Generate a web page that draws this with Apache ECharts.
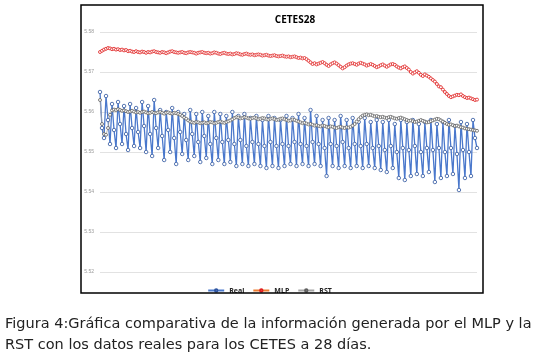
<!DOCTYPE html>
<html>

<head>
    <meta charset="utf-8">
    <script type="text/javascript" src="https://cdn.jsdelivr.net/npm/echarts@6/dist/echarts.min.js"></script>
    <title>CETES28</title>
</head>

<body style="margin:0;background:#fff;">
    <div id="container" style="width:539px;height:360px;"></div>
    <script type="text/javascript">
    // 数据：实际值（每个周期 高、中、低 三个点）
    var real = [
        5.5650, 5.5560, 5.5535, 5.5640, 5.5580, 5.5520, 5.5620, 5.5555, 5.5510,
        5.5625, 5.5570, 5.5520, 5.5615, 5.5545, 5.5505, 5.5620, 5.5560, 5.5515,
        5.5610, 5.5550, 5.5510, 5.5625, 5.5565, 5.5500, 5.5615, 5.5545, 5.5490,
        5.5630, 5.5560, 5.5510, 5.5605, 5.5540, 5.5480, 5.5600, 5.5555, 5.5500,
        5.5610, 5.5535, 5.5470, 5.5600, 5.5550, 5.5495, 5.5595, 5.5530, 5.5480,
        5.5605, 5.5545, 5.5490, 5.5595, 5.5525, 5.5475, 5.5600, 5.5540, 5.5485,
        5.5590, 5.5520, 5.5470, 5.5600, 5.5535, 5.5480, 5.5595, 5.5525, 5.5470,
        5.5590, 5.5530, 5.5475, 5.5600, 5.5520, 5.5465, 5.5590, 5.5530, 5.5470,
        5.5595, 5.5515, 5.5465, 5.5585, 5.5525, 5.5470, 5.5590, 5.5520, 5.5465,
        5.5580, 5.5515, 5.5460, 5.5590, 5.5525, 5.5465, 5.5585, 5.5515, 5.5460,
        5.5580, 5.5520, 5.5465, 5.5590, 5.5515, 5.5470, 5.5585, 5.5525, 5.5465,
        5.5595, 5.5520, 5.5470, 5.5585, 5.5515, 5.5465, 5.5605, 5.5525, 5.5470,
        5.5590, 5.5520, 5.5465, 5.5580, 5.5510, 5.5440, 5.5585, 5.5520, 5.5465,
        5.5580, 5.5515, 5.5460, 5.5590, 5.5525, 5.5465, 5.5580, 5.5510, 5.5460,
        5.5585, 5.5520, 5.5465, 5.5575, 5.5515, 5.5460, 5.5585, 5.5520, 5.5465,
        5.5575, 5.5510, 5.5460, 5.5580, 5.5515, 5.5455, 5.5575, 5.5505, 5.5450,
        5.5580, 5.5515, 5.5460, 5.5570, 5.5500, 5.5435, 5.5580, 5.5510, 5.5430,
        5.5575, 5.5505, 5.5440, 5.5580, 5.5515, 5.5445, 5.5570, 5.5500, 5.5440,
        5.5575, 5.5510, 5.5450, 5.5580, 5.5505, 5.5425, 5.5570, 5.5510, 5.5435,
        5.5575, 5.5500, 5.5440, 5.5580, 5.5510, 5.5445, 5.5565, 5.5495, 5.5405,
        5.5575, 5.5505, 5.5435, 5.5570, 5.5500, 5.5440, 5.5580, 5.5535, 5.5510
    ];

    // MLP 预测
    var mlp = [
        5.5750, 5.5753, 5.5756, 5.5758, 5.5760, 5.5759, 5.5757, 5.5758, 5.5756, 5.5757,
        5.5755, 5.5756, 5.5754, 5.5755, 5.5752, 5.5753, 5.5751, 5.5750, 5.5752, 5.5750,
        5.5749, 5.5751, 5.5750, 5.5748, 5.5750, 5.5749, 5.5751, 5.5752, 5.5750, 5.5749,
        5.5748, 5.5750, 5.5749, 5.5747, 5.5749, 5.5751, 5.5752, 5.5750, 5.5749, 5.5748,
        5.5749, 5.5750, 5.5748, 5.5747, 5.5749, 5.5750, 5.5749, 5.5748, 5.5746, 5.5748,
        5.5749, 5.5750, 5.5748, 5.5747, 5.5748, 5.5746, 5.5747, 5.5749, 5.5748, 5.5746,
        5.5745, 5.5747, 5.5748, 5.5746, 5.5745, 5.5746, 5.5744, 5.5745, 5.5747, 5.5746,
        5.5744, 5.5743, 5.5745, 5.5746, 5.5744, 5.5743, 5.5744, 5.5742, 5.5743, 5.5744,
        5.5743, 5.5741, 5.5742, 5.5743, 5.5741, 5.5740, 5.5741, 5.5742, 5.5740, 5.5739,
        5.5740, 5.5741, 5.5739, 5.5738, 5.5739, 5.5737, 5.5738, 5.5739, 5.5737, 5.5735,
        5.5736, 5.5734, 5.5735, 5.5732, 5.5728, 5.5724, 5.5720, 5.5722, 5.5719, 5.5721,
        5.5723, 5.5725, 5.5722, 5.5718, 5.5715, 5.5719, 5.5722, 5.5724, 5.5721, 5.5717,
        5.5713, 5.5709, 5.5712, 5.5716, 5.5719, 5.5721, 5.5722, 5.5720, 5.5718, 5.5721,
        5.5723, 5.5721, 5.5719, 5.5716, 5.5718, 5.5720, 5.5718, 5.5715, 5.5712, 5.5714,
        5.5717, 5.5719, 5.5716, 5.5713, 5.5716, 5.5719, 5.5720, 5.5718, 5.5714, 5.5711,
        5.5709, 5.5712, 5.5714, 5.5710, 5.5706, 5.5700, 5.5696, 5.5699, 5.5702, 5.5698,
        5.5693, 5.5690, 5.5694, 5.5691, 5.5688, 5.5684, 5.5680, 5.5676, 5.5670, 5.5664,
        5.5662, 5.5656, 5.5650, 5.5645, 5.5640, 5.5637, 5.5639, 5.5641, 5.5643, 5.5642,
        5.5644, 5.5640, 5.5637, 5.5635, 5.5636, 5.5634, 5.5632, 5.5630, 5.5631
    ];

    // RST 预测
    var rst = [
        5.5630, 5.5570, 5.5545, 5.5543, 5.5560, 5.5593, 5.5604, 5.5606, 5.5605, 5.5607,
        5.5605, 5.5603, 5.5604, 5.5602, 5.5600, 5.5601, 5.5603, 5.5601, 5.5599, 5.5600,
        5.5598, 5.5600, 5.5601, 5.5599, 5.5597, 5.5598, 5.5600, 5.5598, 5.5597, 5.5599,
        5.5600, 5.5598, 5.5596, 5.5598, 5.5599, 5.5597, 5.5596, 5.5598, 5.5597, 5.5595,
        5.5593, 5.5590, 5.5586, 5.5583, 5.5579, 5.5576, 5.5574, 5.5573, 5.5575, 5.5574,
        5.5572, 5.5573, 5.5574, 5.5572, 5.5573, 5.5575, 5.5574, 5.5572, 5.5573, 5.5575,
        5.5576, 5.5574, 5.5573, 5.5575, 5.5577, 5.5579, 5.5582, 5.5585, 5.5587, 5.5586,
        5.5584, 5.5585, 5.5587, 5.5586, 5.5584, 5.5583, 5.5585, 5.5586, 5.5584, 5.5582,
        5.5583, 5.5585, 5.5584, 5.5582, 5.5581, 5.5583, 5.5584, 5.5582, 5.5580, 5.5581,
        5.5583, 5.5584, 5.5582, 5.5580, 5.5578, 5.5579, 5.5581, 5.5580, 5.5578, 5.5576,
        5.5574, 5.5572, 5.5573, 5.5571, 5.5569, 5.5570, 5.5568, 5.5566, 5.5567, 5.5565,
        5.5564, 5.5566, 5.5565, 5.5563, 5.5562, 5.5564, 5.5563, 5.5561, 5.5560, 5.5562,
        5.5563, 5.5561, 5.5560, 5.5562, 5.5561, 5.5563, 5.5566, 5.5570, 5.5576, 5.5582,
        5.5587, 5.5591, 5.5593, 5.5594, 5.5592, 5.5593, 5.5591, 5.5589, 5.5590, 5.5588,
        5.5587, 5.5588, 5.5586, 5.5585, 5.5587, 5.5588, 5.5586, 5.5584, 5.5583, 5.5585,
        5.5586, 5.5584, 5.5582, 5.5580, 5.5578, 5.5579, 5.5577, 5.5575, 5.5576, 5.5578,
        5.5580, 5.5578, 5.5576, 5.5574, 5.5575, 5.5577, 5.5579, 5.5581, 5.5583, 5.5582,
        5.5579, 5.5576, 5.5573, 5.5570, 5.5568, 5.5569, 5.5567, 5.5565, 5.5566, 5.5564,
        5.5562, 5.5561, 5.5559, 5.5558, 5.5557, 5.5556, 5.5555, 5.5554, 5.5553
    ];

    var seriesNames = ['Real', 'MLP', 'RST'];
    var yMin = 5.52, yMax = 5.58, yStep = 0.01;
    var categories = real.map(function (v, i) { return String(i + 1); });

    var captionLine1 = 'Figura 4:Gráfica comparativa de la información generada por el MLP y la';
    var captionLine2 = 'RST con los datos reales para los CETES a 28 días.';

    var myChart = echarts.init(document.getElementById('container'));

    function lineSeries(name, data, lineColor, markColor, width, size) {
        return {
            name: name,
            type: 'line',
            data: data,
            symbol: 'circle',
            symbolSize: size,
            showAllSymbol: true,
            itemStyle: { color: '#fff', borderColor: markColor, borderWidth: 0.8 },
            lineStyle: { color: lineColor, width: width },
            animation: false
        };
    }

    var option = {
        backgroundColor: '#fff',
        title: {
            text: 'CETES28',
            left: 290, top: 10, textAlign: 'center',
            textStyle: { fontFamily: 'Open Sans', fontWeight: 'bold', fontSize: 10, color: '#000' }
        },
        legend: {
            data: seriesNames,
            left: 'center', top: 282,
            itemWidth: 16, itemHeight: 3, itemGap: 8,
            textStyle: { fontFamily: 'Open Sans', fontWeight: 'bold', fontSize: 7, color: '#222' }
        },
        grid: { left: 100, right: 62, top: 32, bottom: 88 },
        xAxis: {
            type: 'category',
            data: categories,
            boundaryGap: false,
            axisLine: { show: false },
            axisTick: { show: false },
            axisLabel: { show: false }
        },
        yAxis: {
            type: 'value',
            min: yMin, max: yMax, interval: yStep,
            axisLabel: {
                fontSize: 5, color: '#999', margin: 6,
                formatter: function (v) { return v.toFixed(2); }
            },
            splitLine: { lineStyle: { color: '#e2e2e2', width: 1 } }
        },
        series: [
            lineSeries('Real', real, '#4A78CC', '#2F55A0', 1.3, 3.5),
            lineSeries('MLP', mlp, '#ED7D31', '#E02020', 0.8, 3),
            lineSeries('RST', rst, '#A5A5A5', '#606060', 0.8, 3)
        ],
        graphic: [{
            type: 'rect',
            shape: { x: 81, y: 5, width: 402, height: 288 },
            style: { fill: 'none', stroke: '#000', lineWidth: 1.5 },
            z: 10
        }, {
            type: 'text', left: 5, top: 317,
            style: { text: captionLine1, font: '14.5px "DejaVu Sans"', fill: '#222' }
        }, {
            type: 'text', left: 5, top: 338,
            style: { text: captionLine2, font: '14.5px "DejaVu Sans"', fill: '#222' }
        }]
    };

    myChart.setOption(option);
    </script>
</body>

</html>
